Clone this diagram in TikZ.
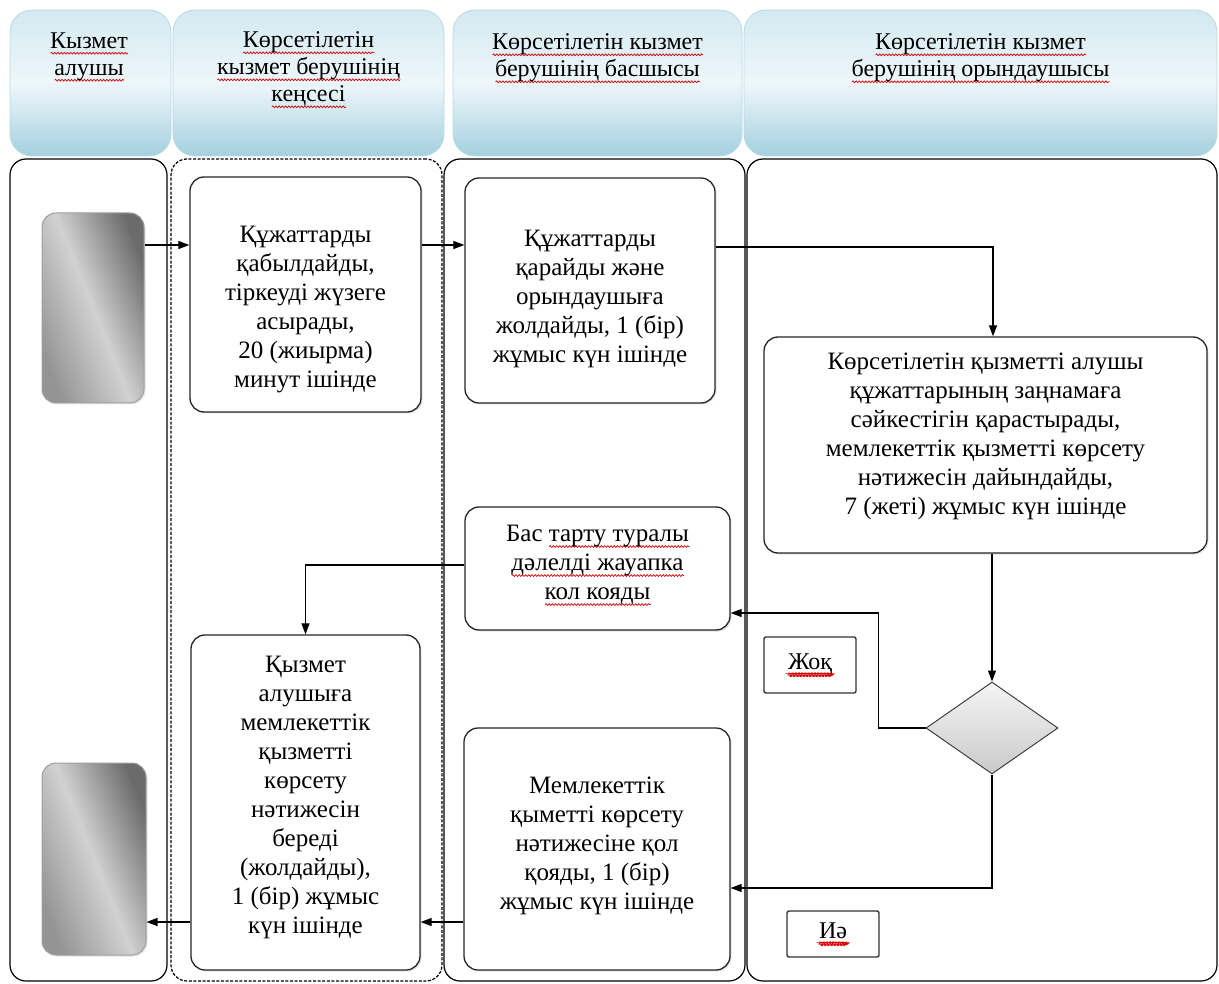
\documentclass[tikz,border=0pt]{standalone}
\usepackage{fontspec}
\setmainfont{Liberation Serif}
\usetikzlibrary{arrows.meta,shapes.geometric,shadows,calc,decorations.pathmorphing}
\definecolor{hdrtop}{HTML}{D3E9F1}
\definecolor{hdrmid}{HTML}{EEF7FA}
\definecolor{hdrbot}{HTML}{A4D0DF}
\definecolor{hdredge}{HTML}{B9D9E4}
\newsavebox\sqbox
\newcommand\squig[1]{\leavevmode\sbox\sqbox{#1}\rlap{\raisebox{-5pt}{\tikz[baseline=0pt]\draw[red!85!black, line width=0.7pt, decorate, decoration={snake, amplitude=0.9pt, segment length=3.2pt}] (0pt,0pt) -- (\wd\sqbox,0pt);}}\usebox\sqbox}
\tikzset{
  hdr/.style={rectangle, rounded corners=22pt, draw=hdredge, line width=0.8pt,
    top color=hdrtop, bottom color=hdrbot, middle color=hdrmid,
    minimum height=146pt, inner sep=0pt},
  lane/.style={rectangle, rounded corners=16pt, draw=black, line width=1.2pt,
    inner sep=0pt, minimum height=822pt},
  lanedash/.style={lane, dash pattern=on 3pt off 1.6pt},
  proc/.style={rectangle, rounded corners=14pt, draw=black!85, line width=1.3pt,
    fill=white, inner sep=0pt,
    drop shadow={shadow xshift=1.5pt, shadow yshift=-1.5pt, fill=gray!45}},
  txt/.style={align=center, inner sep=0pt, font=\fontsize{25}{29}\selectfont},
  htxt/.style={align=center, inner sep=0pt, font=\fontsize{24}{27}\selectfont},
  endbox/.style={rectangle, rounded corners=14pt, draw=gray!75, line width=1pt,
    left color=black!42, right color=black!58, middle color=black!18,
    shading angle=112, inner sep=0pt,
    drop shadow={shadow xshift=1.5pt, shadow yshift=-1.5pt, fill=gray!40}},
  decision/.style={diamond, draw=black!75, line width=1pt,
    top color=gray!8, bottom color=gray!42, inner sep=0pt,
    minimum width=132pt, minimum height=92pt},
  tag/.style={rectangle, rounded corners=2pt, draw=black!80, line width=1.4pt,
    fill=white, inner sep=0pt, font=\fontsize{24}{27}\selectfont},
  arr/.style={-{Triangle[length=11pt,width=8pt]}, line width=1.2pt}
}
\begin{document}
\begin{tikzpicture}[x=1pt,y=-1pt]
\useasboundingbox (0,0) rectangle (1219,984);

% lanes
\node[lane, minimum width=157pt] (L1) at (88.5,570) {};
\node[lanedash, minimum width=271pt] (L2) at (306.5,570) {};
\node[lane, minimum width=301pt] (L3) at (594.5,570) {};
\node[lane, minimum width=470pt] (L4) at (982,570) {};

% headers
\node[hdr, minimum width=161pt] (H1) at (90.5,83) {};
\node[hdr, minimum width=271pt] (H2) at (308.5,83) {};
\node[hdr, minimum width=289pt] (H3) at (597.5,83) {};
\node[hdr, minimum width=473pt] (H4) at (980.5,83) {};
\node[htxt] (h1t) at (89,57) {\squig{Кызмет}\\\squig{алушы}};
\node[htxt] (h2t) at (308.5,70) {\squig{Көрсетілетін}\\\squig{кызмет берушінің}\\\squig{кеңсесі}};
\node[htxt] (h3t) at (597.5,58.5) {\squig{Көрсетілетін кызмет}\\\squig{берушінің басшысы}};
\node[htxt] (h4t) at (980.5,58.5) {\squig{Көрсетілетін кызмет}\\\squig{берушінің орындаушысы}};

% start / end
\node[endbox, minimum width=102pt, minimum height=190pt] (G1) at (93,308) {};
\node[endbox, minimum width=104pt, minimum height=192pt] (G2) at (94,859) {};

% process boxes
\node[proc, minimum width=231pt, minimum height=235pt] (B1) at (305.5,294.5) {};
\node[proc, minimum width=250pt, minimum height=225pt] (B2) at (590,290.5) {};
\node[proc, minimum width=443pt, minimum height=216pt] (B3) at (985.5,445) {};
\node[proc, minimum width=265pt, minimum height=123pt] (B4) at (597.5,568.5) {};
\node[proc, minimum width=266pt, minimum height=242pt] (B5) at (597,849) {};
\node[proc, minimum width=229pt, minimum height=335pt] (B6) at (305.5,802.5) {};
\node[decision] (D) at (992,728) {};
\node[tag, minimum width=92pt, minimum height=56pt] (no) at (810,665) {\squig{Жоқ}};
\node[tag, minimum width=92pt, minimum height=46pt] (yes) at (833,934) {\squig{Иә}};

% texts
\node[txt] (t1) at ([yshift=-15pt]B1.center) {Құжаттарды\\қабылдайды,\\тіркеуді жүзеге\\асырады,\\20 (жиырма)\\минут ішінде};
\node[txt] (t2) at ([yshift=-8pt]B2.center) {Құжаттарды\\қарайды және\\орындаушыға\\жолдайды, 1 (бір)\\жұмыс күн ішінде};
\node[txt] (t3) at ([yshift=9pt]B3.center) {Көрсетілетін қызметті алушы\\құжаттарының заңнамаға\\сәйкестігін қарастырады,\\мемлекеттік қызметті көрсету\\нәтижесін дайындайды,\\7 (жеті) жұмыс күн ішінде};
\node[txt] (t4) at ([yshift=3pt]B4.center) {Бас \squig{тарту туралы}\\\squig{дәлелді жауапка}\\\squig{кол кояды}};
\node[txt] (t5) at ([yshift=3pt]B5.center) {Мемлекеттік\\қыметті көрсету\\нәтижесіне қол\\қояды, 1 (бір)\\жұмыс күн ішінде};
\node[txt] (t6) at ([yshift=5pt]B6.center) {Қызмет\\алушыға\\мемлекеттік\\қызметті\\көрсету\\нәтижесін\\береді\\(жолдайды),\\1 (бір) жұмыс\\күн ішінде};

% connectors
\draw[arr] ([yshift=63pt]G1.east) -- ([yshift=63pt]G1.east -| B1.west);
\draw[arr] ([yshift=49.5pt]B1.east) -- ([yshift=49.5pt]B1.east -| B2.west);
\draw[arr] ([yshift=43.5pt]B2.east) -| ([xshift=7.5pt]B3.north);
\draw[arr] (B3.south -| D.north) -- (D.north);
\draw[arr] (D.west) -- ++(-47,0) |- ([yshift=-44.5pt]B4.east);
\draw[arr] (D.south) |- ([yshift=-39pt]B5.east);
\draw[arr] ([yshift=3.5pt]B4.west) -| (B6.north);
\draw[arr] ([yshift=-73pt]B5.west) -- ([yshift=-73pt]B5.west -| B6.east);
\draw[arr] ([yshift=-119.5pt]B6.west) -- ([yshift=-119.5pt]B6.west -| G2.east);
\end{tikzpicture}
\end{document}
